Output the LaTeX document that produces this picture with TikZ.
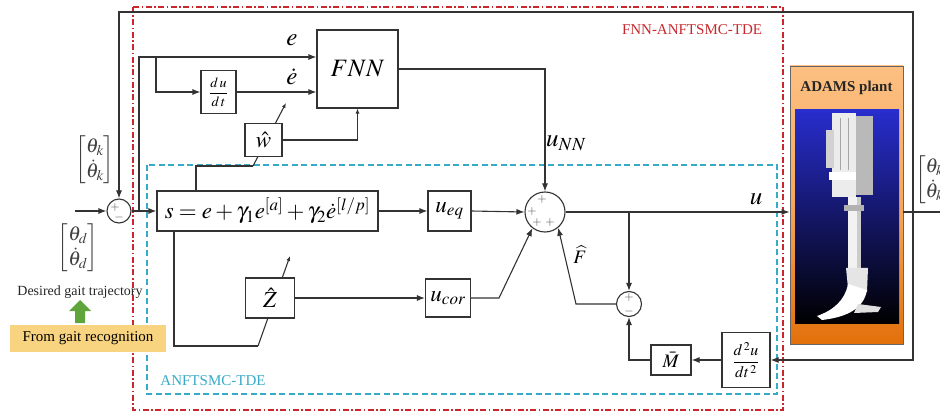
\documentclass[tikz,border=0pt]{standalone}
\usepackage{amsmath}
\usepackage{mathptmx}
\usepackage[no-math]{fontspec}
\setmainfont{Liberation Serif}
\usetikzlibrary{arrows.meta,positioning}

\definecolor{frred}{RGB}{200,40,45}
\definecolor{frcyan}{RGB}{55,170,200}
\definecolor{peach}{RGB}{253,192,130}
\definecolor{orng}{RGB}{226,112,10}
\definecolor{imgblue}{RGB}{40,45,205}
\definecolor{recog}{RGB}{249,212,128}
\definecolor{gaitgreen}{RGB}{95,165,60}

\tikzset{
  blk/.style={draw=black!80, line width=1.1pt, fill=white, inner sep=1pt},
  sumnode/.style={draw=black!80, line width=1.1pt, circle, fill=white, inner sep=0pt},
  wire/.style={draw=black!80, line width=1.1pt},
  sig/.style={wire, -{Latex[length=8pt,width=6pt]}},
  smallsig/.style={wire, -{Latex[length=5pt,width=4pt]}},
  lbl/.style={font=\fontsize{25}{29}\selectfont},
  vec/.style={text=black!75, font=\fontsize{20}{24}\selectfont},
  sgn/.style={text=black!70, font=\fontsize{12}{13}\selectfont, inner sep=0pt},
}

\begin{document}
\begin{tikzpicture}[x=1pt,y=-1pt]
  \useasboundingbox (0,0) rectangle (940,414);

  % Frames of the two controllers
  \draw[frred, line width=1.1pt, dash pattern=on 6pt off 2.5pt on 1.5pt off 2.5pt] (133,7) rectangle (783,410);
  \draw[frcyan, line width=1.1pt, dash pattern=on 6pt off 3.5pt] (147,165) rectangle (777,394);
  \node[text=frred, font=\fontsize{15}{18}\selectfont] (tfull) at (692,30) {FNN-ANFTSMC-TDE};
  \node[text=frcyan, font=\fontsize{15}{18}\selectfont] (tsmc) at (213,381) {ANFTSMC-TDE};

  % Adaptive arrows through the boxes (drawn first, boxes cover them)
  \coordinate (wa) at (196,166);
  \coordinate (wb) at (253,166);
  \coordinate (wc) at (286,103);
  \draw[smallsig] (wb) -- (wc);
  \coordinate (za) at (174,346);
  \coordinate (zb) at (258,346);
  \coordinate (zc) at (290,256);
  \draw[smallsig] (zb) -- (zc);

  % Blocks
  \node[sumnode, minimum size=24pt] (sumA) at (119,211) {};
  \node[blk, minimum width=81pt, minimum height=78pt, lbl] (fnn) at (357.5,69) {$FNN$};
  \node[blk, minimum width=35pt, minimum height=43pt, font=\fontsize{14}{17}\selectfont] (ddt) at (218.5,92) {$\dfrac{d\,u}{d\,t}$};
  \node[blk, minimum width=37pt, minimum height=33pt, font=\fontsize{23}{27}\selectfont] (what) at (263.5,140) {$\hat{w}$};
  \node[blk, minimum width=221pt, minimum height=40pt, font=\fontsize{23}{27}\selectfont] (sbox) at (267.5,211) {$s=e+\gamma_1 e^{[a]}+\gamma_2\dot{e}^{[l/p]}$};
  \node[blk, minimum width=43pt, minimum height=40pt, font=\fontsize{23}{27}\selectfont] (ueq) at (449.5,211) {$u_{eq}$};
  \node[sumnode, minimum size=40pt] (sumB) at (545,212) {};
  \node[blk, minimum width=49pt, minimum height=40pt, font=\fontsize{23}{27}\selectfont] (zhat) at (270,298) {$\hat{Z}$};
  \node[blk, minimum width=45pt, minimum height=38pt, font=\fontsize{23}{27}\selectfont] (ucor) at (448,298) {$u_{cor}$};
  \node[sumnode, minimum size=25pt] (sumC) at (629,304) {};
  \node[blk, minimum width=48pt, minimum height=55pt, font=\fontsize{16}{19}\selectfont] (d2u) at (746,360) {$\dfrac{d^{\,2}u}{dt^{\,2}}$};
  \node[blk, minimum width=40pt, minimum height=30pt, font=\fontsize{19}{22}\selectfont] (mbar) at (671,360) {$\bar{M}$};

  % Signs in the summing junctions
  \node[sgn] (sA1) at (115,208) {$+$};
  \node[sgn] (sA2) at (119,218) {$-$};
  \node[sgn] (sB1) at (542,200) {$+$};
  \node[sgn] (sB2) at (532,212) {$+$};
  \node[sgn] (sB3) at (537,223) {$+$};
  \node[sgn] (sB4) at (550,223) {$+$};
  \node[sgn] (sC1) at (629,298) {$+$};
  \node[sgn] (sC2) at (629,311) {$-$};

  % ADAMS plant
  \node[draw=black!60, line width=0.8pt, top color=peach, bottom color=orng, middle color=peach!70!orng,
        minimum width=113pt, minimum height=278pt, inner sep=0pt] (plant) at (846.5,205) {};
  \node[font=\fontsize{15}{18}\selectfont\bfseries, text=black!85] (tplant) at (846.5,88) {ADAMS plant};
  \shade[top color=imgblue, bottom color=black] (795,110) rectangle (899,323);
  % prosthesis
  \fill[gray!15] (832,113) rectangle (856,197);
  \fill[gray!55] (856,116) rectangle (873,195);
  \fill[gray!35] (826,130) rectangle (834,168);
  \fill[white] (829,172) rectangle (856,180);
  \draw[gray!70, line width=0.5pt] (840,118) -- (840,170) (848,118) -- (848,170);
  \fill[gray!10] (848,197) rectangle (861,270);
  \fill[gray!40] (857,197) rectangle (861,270);
  \fill[gray!60] (844,205) rectangle (864,211);
  \fill[gray!20] (846,268) -- (868,268) -- (867,292) -- (848,288) -- cycle;
  \fill[white] (848,284) -- (867,290)
     .. controls (864,308) and (848,317) .. (822,320)
     -- (817,316) .. controls (834,310) and (845,300) .. cycle;
  \fill[gray!25] (858,304) -- (881,307) -- (878,312) -- (854,313) -- cycle;

  % Inputs and feedback
  \coordinate (rin) at (75,211);
  \draw[sig] (rin) -- (sumA.west);
  \coordinate (yout) at (913,212);
  \coordinate (ytop) at (913,12);
  \draw[wire] (plant.east |- sumB) -- (940,212);
  \draw[sig] (yout) -- (ytop) -| (sumA.north);
  \draw[sig] (yout) |- (d2u.east);

  % Error signals
  \draw[sig] (sumA.east) -- (sbox.west);
  \coordinate (ebr) at (139,211);
  \coordinate (ein) at (139,57);
  \coordinate (edbr) at (156,57);
  \draw[sig] (ebr) -- (ein) -- (ein -| fnn.west);
  \draw[sig] (edbr) |- (ddt.west);
  \draw[sig] (ddt.east) -- (ddt.east -| fnn.west);
  \node[lbl] (le) at (292,40) {$e$};
  \node[lbl] (led) at (292,77) {$\dot{e}$};

  % Adaptive laws
  \draw[wire] (sbox.north -| wa) -- (wa) -- (wb);
  \draw[smallsig] (what.east) -| (fnn.south);
  \draw[wire] (sbox.south -| za) -- (za) -- (zb);
  \draw[sig] (zhat.east) -- (ucor.west);

  % Control law
  \draw[sig] (fnn.east) -| (sumB.north);
  \node[lbl] (lunn) at (566,143) {$u_{NN}$};
  \draw[sig] (sbox.east) -- (ueq.west);
  \draw[sig] (ueq.east) -- (sumB.west);
  \coordinate (ucb) at (499,298);
  \draw[sig] (ucor.east) -- (ucb) -- (sumB.232);
  \draw[sig] (sumB.east) -- (sumB.east -| plant.west);
  \node[lbl] (lu) at (756,199) {$u$};

  % Time delay estimation
  \coordinate (ubr) at (629,212);
  \draw[sig] (ubr) -- (sumC.north);
  \coordinate (fb) at (576,304);
  \draw[sig] (sumC.west) -- (fb) -- (sumB.310);
  \node[font=\fontsize{19}{22}\selectfont] (lf) at (580,255) {$\widehat{F}$};
  \draw[sig] (d2u.west) -- (mbar.east);
  \draw[sig] (mbar.west) -| (sumC.south);

  % State vectors
  \node[vec] (thk) at (95,160) {$\begin{bmatrix}\theta_k\\ \dot{\theta}_k\end{bmatrix}$};
  \node[vec] (thd) at (78,248) {$\begin{bmatrix}\theta_d\\ \dot{\theta}_d\end{bmatrix}$};
  \node[vec, anchor=west, inner sep=0pt] (thout) at (915,180) {$\begin{bmatrix}\theta_k\\ \dot{\theta}_k\end{bmatrix}$};

  % Gait trajectory
  \node[font=\fontsize{14}{17}\selectfont, text=black!85] (tgait) at (80,292) {Desired gait trajectory};
  \fill[gaitgreen] (75,323) -- (85,323) -- (85,311) -- (91,311) -- (80,300) -- (69,311) -- (75,311) -- cycle;
  \node[fill=recog, minimum width=156pt, minimum height=27pt, inner sep=0pt,
        font=\fontsize{15}{18}\selectfont] (trec) at (88,338.5) {From gait recognition};
\end{tikzpicture}
\end{document}
